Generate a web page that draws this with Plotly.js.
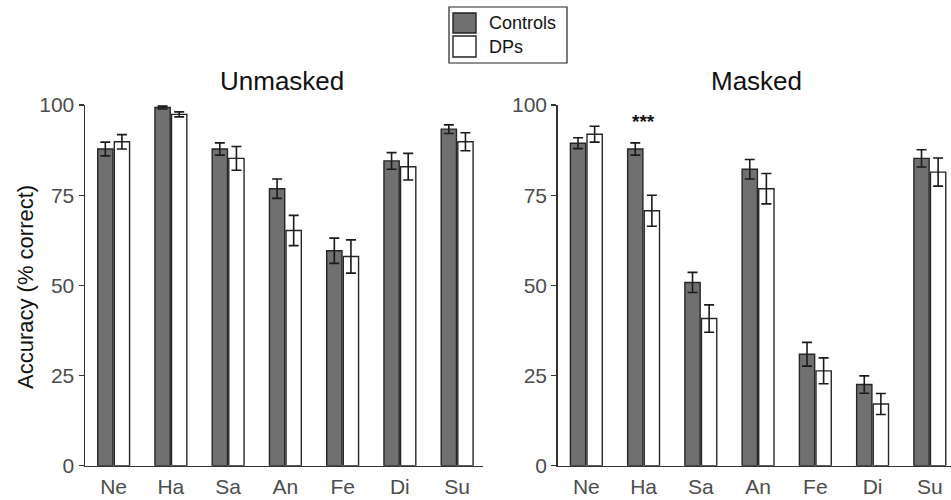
<!DOCTYPE html>
<html>
<head>
<meta charset="utf-8">
<script src="https://cdn.plot.ly/plotly-3.0.1.min.js"></script>
<style>html,body{margin:0;padding:0;background:#fff;}#chart{width:951px;height:500px;}</style>
</head>
<body>
<div id="chart"></div>
<script>
const categories = ['Ne', 'Ha', 'Sa', 'An', 'Fe', 'Di', 'Su'];
const unmaskedControls = [87.8, 99.3, 87.8, 76.8, 59.6, 84.5, 93.3];
const unmaskedControlsErr = [1.9, 0.4, 1.7, 2.7, 3.5, 2.3, 1.2];
const unmaskedDPs = [89.8, 97.4, 85.2, 65.2, 58.0, 82.9, 89.8];
const unmaskedDPsErr = [2.0, 0.7, 3.3, 4.2, 4.6, 3.7, 2.5];
const maskedControls = [89.4, 87.8, 50.8, 82.2, 30.9, 22.5, 85.2];
const maskedControlsErr = [1.5, 1.7, 2.8, 2.7, 3.3, 2.4, 2.4];
const maskedDPs = [91.9, 70.7, 40.8, 76.8, 26.3, 17.1, 81.4];
const maskedDPsErr = [2.2, 4.3, 3.8, 4.2, 3.6, 2.9, 3.9];
const yTicks = [0, 25, 50, 75, 100];
const panelTitles = ['Unmasked', 'Masked'];
const groupNames = ['Controls', 'DPs'];
const sigLabel = '***';
const sigCategory = 'Ha';
const sigY = 95.4;

const FONT = '"Liberation Sans", Arial, sans-serif';
const CTRL = '#707070';
const EDGE = '#262626';

function barTrace(y, err, color, xa, ya, name) {
  return {
    type: 'bar', x: categories, y: y, name: name, xaxis: xa, yaxis: ya,
    marker: {color: color, line: {color: EDGE, width: 1.4}},
    error_y: {type: 'data', array: err, visible: true, color: '#1a1a1a', thickness: 1.6, width: 5},
    showlegend: false, hoverinfo: 'x+y'
  };
}

const data = [
  barTrace(unmaskedControls, unmaskedControlsErr, CTRL, 'x', 'y', groupNames[0]),
  barTrace(unmaskedDPs, unmaskedDPsErr, '#ffffff', 'x', 'y', groupNames[1]),
  barTrace(maskedControls, maskedControlsErr, CTRL, 'x2', 'y2', groupNames[0]),
  barTrace(maskedDPs, maskedDPsErr, '#ffffff', 'x2', 'y2', groupNames[1])
];

const W = 951, H = 500;
const px = v => v / W;
const py = v => (H - v) / H;

function xAxis(domain, range) {
  return {
    domain: domain, range: range, type: 'category',
    showline: true, linecolor: '#333333', linewidth: 1.5,
    ticks: '', showgrid: false, zeroline: false,
    tickfont: {family: FONT, size: 21, color: '#4d4d4d'},
    ticklabelstandoff: 2, fixedrange: true
  };
}
function yAxis(anchor) {
  return {
    domain: [py(465.7), py(105)], range: [0, 100], anchor: anchor,
    tickvals: yTicks, ticktext: yTicks.map(String),
    showline: true, linecolor: '#333333', linewidth: 1.5,
    ticks: 'outside', ticklen: 5, tickwidth: 1.3, tickcolor: '#333333',
    showgrid: false, zeroline: false,
    tickfont: {family: FONT, size: 21, color: '#4d4d4d'}, fixedrange: true
  };
}

const layout = {
  width: W, height: H,
  margin: {l: 0, r: 0, t: 0, b: 0, pad: 0},
  paper_bgcolor: '#ffffff', plot_bgcolor: '#ffffff',
  barmode: 'group', bargap: 0.42, bargroupgap: 0.08,
  showlegend: false,
  xaxis: xAxis([px(85), px(483.3)], [-0.5, 6.457]),
  yaxis: yAxis('x'),
  xaxis2: xAxis([px(557.7), 1], [-0.5, 6.37]),
  yaxis2: yAxis('x2'),
  annotations: [
    {text: panelTitles[0], xref: 'paper', yref: 'paper', x: px(282), y: py(81), xanchor: 'center', yanchor: 'middle', showarrow: false, font: {family: FONT, size: 26, color: '#111111'}},
    {text: panelTitles[1], xref: 'paper', yref: 'paper', x: px(756), y: py(81), xanchor: 'center', yanchor: 'middle', showarrow: false, font: {family: FONT, size: 26, color: '#111111'}},
    {text: 'Accuracy (% correct)', xref: 'paper', yref: 'paper', x: px(25), y: py(287), xanchor: 'center', yanchor: 'middle', textangle: -90, showarrow: false, font: {family: FONT, size: 22, color: '#111111'}},
    {text: '<b>' + sigLabel + '</b>', xref: 'x2', yref: 'y2', x: sigCategory, y: sigY, xanchor: 'center', yanchor: 'middle', showarrow: false, font: {family: FONT, size: 19, color: '#111111'}},
    {text: groupNames[0], xref: 'paper', yref: 'paper', x: px(487), y: py(23), xanchor: 'left', yanchor: 'middle', showarrow: false, font: {family: FONT, size: 18, color: '#111111'}},
    {text: groupNames[1], xref: 'paper', yref: 'paper', x: px(487), y: py(47), xanchor: 'left', yanchor: 'middle', showarrow: false, font: {family: FONT, size: 18, color: '#111111'}}
  ],
  shapes: [
    {type: 'rect', xref: 'paper', yref: 'paper', x0: px(449), x1: px(567), y0: py(7), y1: py(63), line: {color: '#222222', width: 1.2}, fillcolor: 'rgba(0,0,0,0)'},
    {type: 'rect', xref: 'paper', yref: 'paper', x0: px(453), x1: px(476), y0: py(13), y1: py(33), line: {color: '#222222', width: 1.4}, fillcolor: CTRL},
    {type: 'rect', xref: 'paper', yref: 'paper', x0: px(453), x1: px(476), y0: py(36), y1: py(57), line: {color: '#222222', width: 1.4}, fillcolor: '#ffffff'}
  ]
};

Plotly.newPlot('chart', data, layout, {displayModeBar: false, staticPlot: true});
</script>
</body>
</html>
